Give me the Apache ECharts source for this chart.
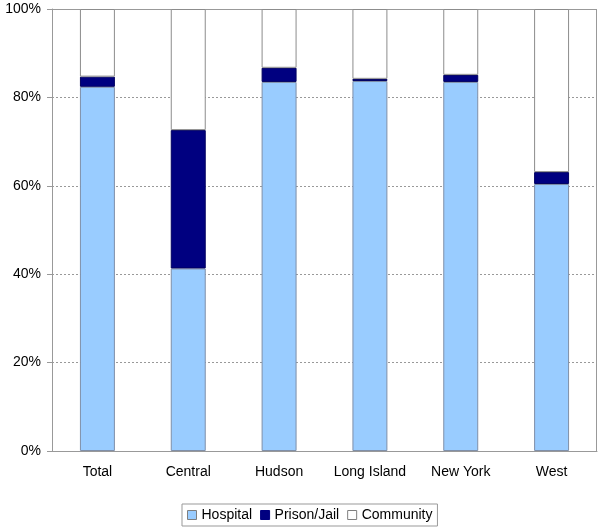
<!DOCTYPE html>
<html>
<head>
<meta charset="utf-8">
<script src="https://cdn.jsdelivr.net/npm/echarts@6/dist/echarts.min.js"></script>
<style>
  html, body { margin: 0; padding: 0; background: #fff; }
  #chart { width: 600px; height: 529px; }
</style>
</head>
<body>
<div id="chart"></div>
<script>
const regions = ['Total', 'Central', 'Hudson', 'Long Island', 'New York', 'West']
const hospital = [82.4, 41.3, 83.5, 83.7, 83.5, 60.4]
const prisonJail = [2.3, 31.3, 3.2, 0.5, 1.6, 2.7]
const community = hospital.map((h, i) => +(100 - h - prisonJail[i]).toFixed(1))

const chart = echarts.init(document.getElementById('chart'))
const font = 'Liberation Sans, Arial, sans-serif'

chart.setOption({
  backgroundColor: '#fff',
  textStyle: { fontFamily: font },
  animation: false,
  grid: { left: 52, right: 3, top: 9, bottom: 78 },
  legend: {
    bottom: 3,
    left: 182,
    icon: 'rect',
    itemWidth: 9,
    itemHeight: 9,
    itemGap: 8,
    padding: [4, 5],
    borderColor: '#999',
    borderWidth: 1,
    textStyle: { fontFamily: font, fontSize: 14, color: '#000' },
    data: [
      { name: 'Hospital', itemStyle: { borderColor: '#7f7f7f', borderWidth: 1 } },
      { name: 'Prison/Jail', itemStyle: { borderColor: '#000080', borderWidth: 1 } },
      { name: 'Community', itemStyle: { borderColor: '#7f7f7f', borderWidth: 1 } }
    ]
  },
  xAxis: {
    type: 'category',
    data: regions,
    axisLine: { lineStyle: { color: '#999' } },
    axisTick: { alignWithLabel: false, length: 5, lineStyle: { color: '#999' } },
    axisLabel: { interval: 0, color: '#000', fontSize: 14, margin: 14, fontFamily: font }
  },
  yAxis: {
    type: 'value',
    min: 0,
    max: 100,
    interval: 20,
    axisLine: { show: true, lineStyle: { color: '#999' } },
    axisTick: { show: true, length: 5, lineStyle: { color: '#999' } },
    axisLabel: { formatter: '{value}%', color: '#000', fontSize: 14, margin: 11, fontFamily: font },
    splitLine: { lineStyle: { color: '#999', type: [2, 2] } }
  },
  series: [
    { name: 'Hospital', type: 'bar', stack: 's', barWidth: '38.5%', data: hospital,
      itemStyle: { color: '#99ccff', borderColor: '#7f8fa8', borderWidth: 1 } },
    { name: 'Prison/Jail', type: 'bar', stack: 's', data: prisonJail,
      itemStyle: { color: '#000080', borderColor: '#000060', borderWidth: 1 } },
    { name: 'Community', type: 'bar', stack: 's', data: community,
      itemStyle: { color: '#ffffff', borderColor: '#8c8c8c', borderWidth: 1 } }
  ],
  graphic: [
    { type: 'line', shape: { x1: 52, y1: 9.5, x2: 597, y2: 9.5 }, style: { stroke: '#999', lineWidth: 1 } },
    { type: 'line', shape: { x1: 596.5, y1: 9, x2: 596.5, y2: 451 }, style: { stroke: '#999', lineWidth: 1 } }
  ]
})
</script>
</body>
</html>
